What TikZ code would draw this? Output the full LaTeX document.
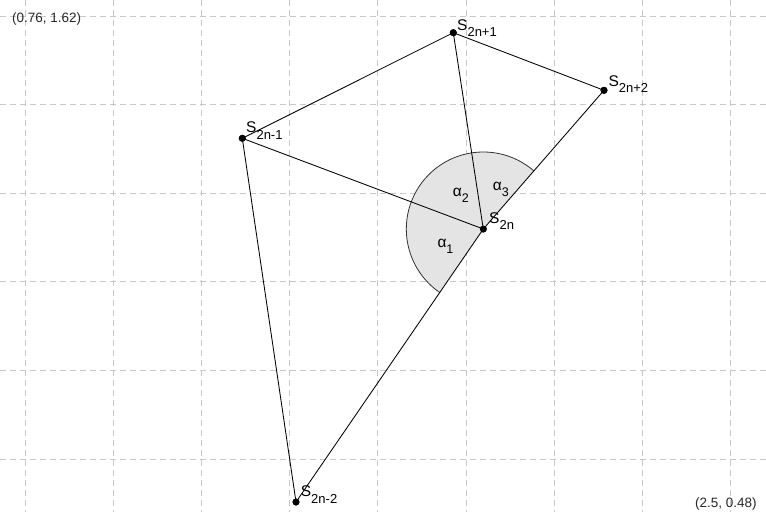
\documentclass[tikz,border=0pt]{standalone}
\usepackage{fontspec}
\setmainfont{Liberation Sans}
\usetikzlibrary{calc}
\definecolor{gridgray}{HTML}{C8C8C8}
\definecolor{sectorfill}{HTML}{E4E4E4}
\definecolor{arcgray}{HTML}{333333}
\newcommand\mysub[1]{\raisebox{-6.5pt}{\fontsize{13}{13}\selectfont #1}}
\newcommand\asub[1]{\raisebox{-6pt}{\fontsize{12.5}{13}\selectfont #1}}
\begin{document}
\begin{tikzpicture}[x=1pt,y=-1pt,
  gridline/.style={draw=gridgray, dash pattern=on 6pt off 4pt, line width=0.8pt},
  dot/.style={circle, fill=black, inner sep=0pt, minimum size=7pt},
  edge/.style={draw=black, line width=0.85pt},
  lab/.style={anchor=base west, inner sep=0pt, font=\fontsize{15.5}{16}\selectfont},
  corner/.style={anchor=base west, inner sep=0pt, font=\fontsize{13.5}{14}\selectfont, text=black!85}]
\useasboundingbox (0,0) rectangle (766,512);
% grid
\foreach \k in {0,...,8} {\draw[gridline] (25+88.2*\k,0) -- (25+88.2*\k,512);}
\foreach \k in {0,...,5} {\draw[gridline] (0,16+88.6*\k) -- (766,16+88.6*\k);}
% points
\node[dot] (p1) at (453.3,32.7) {};
\node[dot] (p2) at (604,90.3) {};
\node[dot] (m1) at (242.3,138.3) {};
\node[dot] (c)  at (483.3,229) {};
\node[dot] (m2) at (296,502) {};
% sector
\fill[sectorfill] (c.center) -- ++(-49:77) arc[start angle=-49, end angle=-235.5, radius=77] -- cycle;
\draw[arcgray, line width=0.8pt] ($(c.center)+(-49:77)$) arc[start angle=-49, end angle=-235.5, radius=77];
% edges
\draw[edge] (m1.center) -- (p1.center);
\draw[edge] (p1.center) -- (p2.center);
\draw[edge] (p2.center) -- (c.center);
\draw[edge] (c.center) -- (m2.center);
\draw[edge] (m1.center) -- (c.center);
\draw[edge] (p1.center) -- (c.center);
\draw[edge] (m1.center) -- (m2.center);
% redraw dots on top
\foreach \n in {p1,p2,m1,c,m2} {\fill (\n.center) circle (3.5pt);}
% labels
\node[lab] (lp1) at (457,30) {S\mysub{2n+1}};
\node[lab] (lp2) at (608.3,86) {S\mysub{2n+2}};
\node[lab] (lm1) at (246,132.7) {S\mysub{2n-1}};
\node[lab] (lc)  at (489,223.3) {S\mysub{2n}};
\node[lab] (lm2) at (300.7,496.7) {S\mysub{2n-2}};
\node[lab] (a1) at (437.3,247.3) {α\asub{1}};
\node[lab] (a2) at (452.7,196.7) {α\asub{2}};
\node[lab] (a3) at (492.7,190) {α\asub{3}};
\node[corner] (tl) at (12,22) {(0.76, 1.62)};
\node[corner] (br) at (695,507.5) {(2.5, 0.48)};
\end{tikzpicture}
\end{document}
